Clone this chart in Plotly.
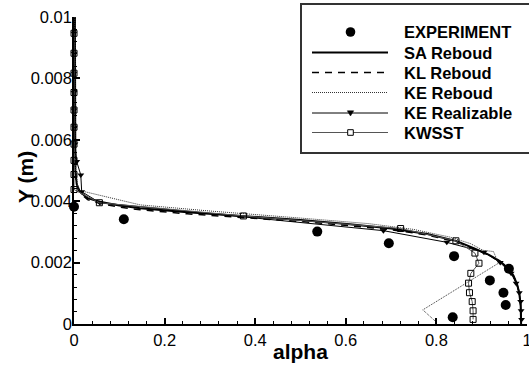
import plotly.graph_objects as go

# ---------------- data ----------------
alpha_exp = [0.0, 0.110, 0.537, 0.695, 0.839, 0.960, 0.918, 0.948, 0.953, 0.836]
y_exp = [0.00382, 0.00341, 0.00301, 0.00263, 0.00221, 0.00180, 0.00142, 0.00102, 0.00062, 0.00022]

alpha_sa = [0.002, 0.002, 0.003, 0.006, 0.013, 0.030, 0.057, 0.100, 0.146, 0.25, 0.366, 0.5,
            0.609, 0.70, 0.78, 0.845, 0.885, 0.915, 0.940, 0.958, 0.970, 0.978, 0.983, 0.986, 0.987]
y_sa = [0.0100, 0.0060, 0.0050, 0.00455, 0.00431, 0.00410, 0.00398, 0.00386, 0.00377, 0.00364,
        0.00352, 0.00339, 0.00325, 0.00311, 0.00293, 0.00270, 0.00245, 0.00226, 0.00205, 0.00182,
        0.00158, 0.00130, 0.00100, 0.00060, 0.0]

alpha_kl = [0.002, 0.002, 0.003, 0.006, 0.013, 0.030, 0.057, 0.100, 0.146, 0.25, 0.366, 0.5,
            0.609, 0.70, 0.78, 0.845, 0.885, 0.915, 0.940, 0.958, 0.970, 0.978, 0.983, 0.986, 0.987]
y_kl = [0.0100, 0.0060, 0.0050, 0.00452, 0.00427, 0.00405, 0.00393, 0.00381, 0.00372, 0.00359,
        0.00347, 0.00334, 0.00320, 0.00307, 0.00290, 0.00267, 0.00243, 0.00225, 0.00204, 0.00181,
        0.00157, 0.00130, 0.00100, 0.00060, 0.0]

alpha_ke = [0.002, 0.002, 0.004, 0.0095, 0.146, 0.30, 0.50, 0.65, 0.75, 0.83, 0.875, 0.903,
            0.926, 0.937, 0.770, 0.797]
y_ke = [0.0100, 0.0060, 0.0050, 0.00436, 0.00388, 0.00368, 0.00345, 0.00327, 0.00308, 0.00283,
        0.00262, 0.00240, 0.00236, 0.00198, 0.00046, 0.00010]

alpha_ker = [0.0, 0.0, 0.0, 0.0, 0.0, 0.001, 0.002, 0.006, 0.015, 0.017, 0.057, 0.683, 0.823,
             0.905, 0.941, 0.965, 0.976, 0.983, 0.986, 0.987, 0.988]
y_ker = [0.00947, 0.00882, 0.00817, 0.00754, 0.00697, 0.00641, 0.00586, 0.00529, 0.00485,
         0.00431, 0.00395, 0.00304, 0.00266, 0.00234, 0.00200, 0.00165, 0.00133, 0.00102,
         0.00073, 0.00043, 0.00015]

alpha_kw = [0.0, 0.0, 0.0, 0.0, 0.0, 0.0, 0.0, 0.0, 0.0, 0.0, 0.056, 0.374, 0.721, 0.843,
            0.885, 0.894, 0.876, 0.871, 0.873, 0.879, 0.881, 0.881]
y_kw = [0.00947, 0.00882, 0.00817, 0.00754, 0.00697, 0.00641, 0.00586, 0.00533, 0.00487,
        0.00438, 0.00395, 0.00352, 0.00311, 0.00271, 0.00231, 0.00198, 0.00165, 0.00133,
        0.00102, 0.00073, 0.00043, 0.00015]

x_tickvals = [0, 0.2, 0.4, 0.6, 0.8, 1.0]
x_ticktext = ["0", "0.2", "0.4", "0.6", "0.8", "1"]
y_tickvals = [0, 0.002, 0.004, 0.006, 0.008, 0.01]
y_ticktext = ["0", "0.002", "0.004", "0.006", "0.008", "0.01"]

legend_names = ["EXPERIMENT", "SA Reboud", "KL Reboud", "KE Reboud", "KE Realizable", "KWSST"]

# ---------------- figure ----------------
W, H = 529, 367
L, R, T, B = 74, 2, 17, 43
FONT = "Liberation Sans, Arial, sans-serif"


def pxx(x):
    return (x - L) / (W - L - R)


def pxy(y):
    return (H - B - y) / (H - T - B)


fig = go.Figure()
fig.add_trace(go.Scatter(x=alpha_sa, y=y_sa, mode="lines", name=legend_names[1],
                         line=dict(color="black", width=2), cliponaxis=False))
fig.add_trace(go.Scatter(x=alpha_kl, y=y_kl, mode="lines", name=legend_names[2],
                         line=dict(color="black", width=1.5, dash="7px,6px"), cliponaxis=False))
fig.add_trace(go.Scatter(x=alpha_ke, y=y_ke, mode="lines", name=legend_names[3],
                         line=dict(color="#333", width=1, dash="1px,1px"), cliponaxis=False))
fig.add_trace(go.Scatter(x=alpha_ker, y=y_ker, mode="lines+markers", name=legend_names[4],
                         line=dict(color="black", width=1),
                         marker=dict(symbol="triangle-down", size=6, color="black"),
                         cliponaxis=False))
fig.add_trace(go.Scatter(x=alpha_kw, y=y_kw, mode="lines+markers", name=legend_names[5],
                         line=dict(color="#555", width=1),
                         marker=dict(symbol="square-open", size=6, color="black",
                                     line=dict(width=1, color="black")),
                         cliponaxis=False))
fig.add_trace(go.Scatter(x=alpha_exp, y=y_exp, mode="markers", name=legend_names[0],
                         marker=dict(symbol="circle", size=10, color="black"),
                         cliponaxis=False))

axis_common = dict(showline=True, linecolor="black", linewidth=1.5, mirror=False,
                   showgrid=False, zeroline=False, ticks="inside", ticklen=6, tickwidth=1.5,
                   tickcolor="black", ticklabeloverflow="allow",
                   tickfont=dict(family=FONT, size=16.5, color="black"))

fig.update_xaxes(range=[0, 1], tickvals=x_tickvals, ticktext=x_ticktext,
                 minor=dict(ticks="inside", ticklen=3.5, tickwidth=1, dtick=0.04, tickcolor="black"),
                 **axis_common)
fig.update_yaxes(range=[0, 0.01], tickvals=y_tickvals, ticktext=y_ticktext,
                 ticklabelstandoff=-3,
                 minor=dict(ticks="inside", ticklen=3.5, tickwidth=1, dtick=0.0004, tickcolor="black"),
                 **axis_common)

shapes = []
annotations = []

# axis titles
annotations.append(dict(text="alpha", xref="paper", yref="paper", x=pxx(300.5), y=pxy(351),
                        xanchor="center", yanchor="middle", showarrow=False,
                        font=dict(family=FONT, size=21, color="black", weight="bold")))
annotations.append(dict(text="Y (m)", xref="paper", yref="paper", x=pxx(25), y=pxy(177),
                        xanchor="center", yanchor="middle", showarrow=False, textangle=-90,
                        font=dict(family=FONT, size=21, color="black", weight="bold")))

# manual legend
shapes.append(dict(type="rect", xref="paper", yref="paper", x0=pxx(301), x1=pxx(545),
                   y0=pxy(4), y1=pxy(153), line=dict(color="#333", width=2),
                   fillcolor="white", layer="above"))
rows = [32, 52.5, 72.5, 92.5, 113, 132.5]
lx0, lx1, mx = 312, 388, 350.5
for name, ry in zip(legend_names, rows):
    annotations.append(dict(text=name, xref="paper", yref="paper", x=pxx(402), y=pxy(ry),
                            xanchor="left", yanchor="middle", showarrow=False,
                            font=dict(family=FONT, size=16.5, color="black", weight="bold")))

# EXPERIMENT symbol
shapes.append(dict(type="circle", xref="paper", yref="paper", x0=pxx(mx - 4.8), x1=pxx(mx + 4.8),
                   y0=pxy(rows[0] - 4.8), y1=pxy(rows[0] + 4.8), fillcolor="black",
                   line=dict(color="black", width=0), layer="above"))
# line samples
line_styles = [dict(color="black", width=2), dict(color="black", width=1.5, dash="7px,6px"),
               dict(color="#333", width=1, dash="1px,1px"), dict(color="black", width=1),
               dict(color="#555", width=1)]
for st, ry in zip(line_styles, rows[1:]):
    shapes.append(dict(type="line", xref="paper", yref="paper", x0=pxx(lx0), x1=pxx(lx1),
                       y0=pxy(ry), y1=pxy(ry), line=st, layer="above"))
# triangle
ty = rows[4]
tri = "M {a},{b} L {c},{b} L {d},{e} Z".format(a=pxx(mx - 3.2), b=pxy(ty - 2.2), c=pxx(mx + 3.2),
                                                 d=pxx(mx), e=pxy(ty + 3.0))
shapes.append(dict(type="path", xref="paper", yref="paper", path=tri, fillcolor="black",
                   line=dict(color="black", width=0.5), layer="above"))
# square
sy = rows[5]
shapes.append(dict(type="rect", xref="paper", yref="paper", x0=pxx(mx - 2.8), x1=pxx(mx + 2.8),
                   y0=pxy(sy - 2.8), y1=pxy(sy + 2.8), fillcolor="white",
                   line=dict(color="black", width=1), layer="above"))

fig.update_layout(width=W, height=H, margin=dict(l=L, r=R, t=T, b=B, autoexpand=False),
                  plot_bgcolor="white", paper_bgcolor="white", showlegend=False,
                  shapes=shapes, annotations=annotations,
                  font=dict(family=FONT, color="black"))

fig.write_html("out.html")
